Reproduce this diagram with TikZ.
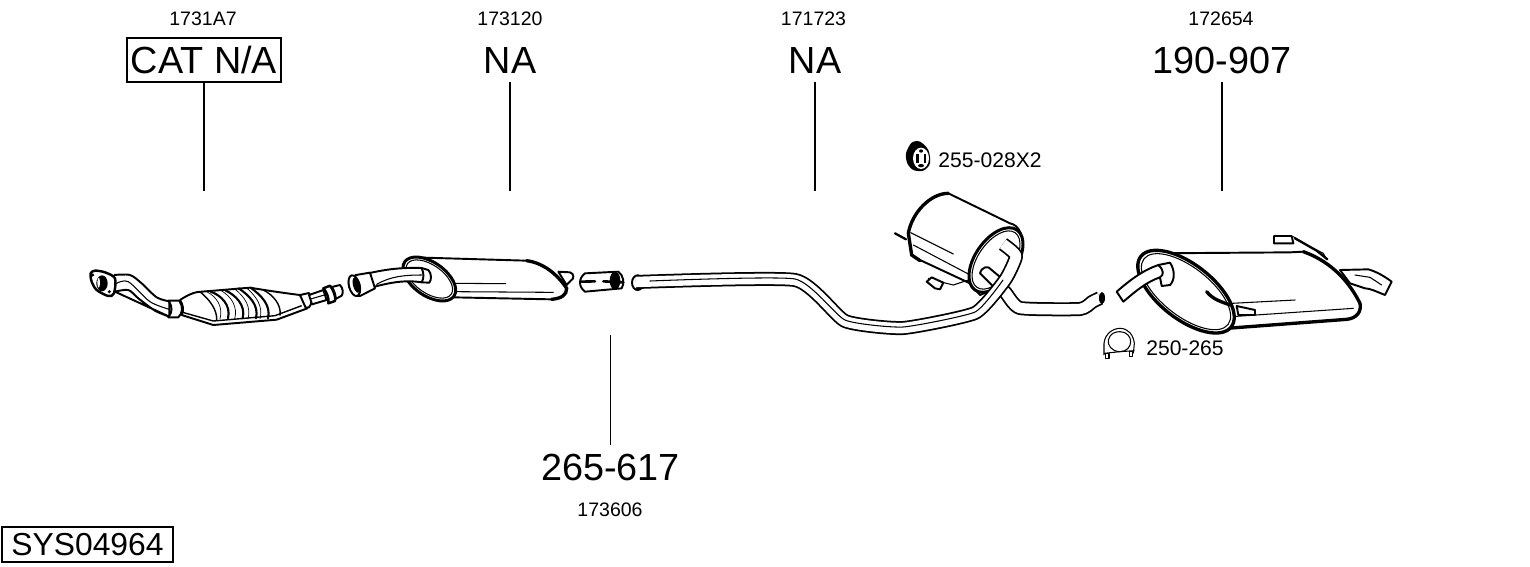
\documentclass[tikz,border=0pt]{standalone}
\usepackage{fontspec}
\setmainfont{Liberation Sans}
\begin{document}
\begin{tikzpicture}[x=0.02cm,y=-0.02cm]
    \tikzstyle{part}=[draw=black,fill=white,line width=1.1pt,line join=round]
    \tikzstyle{heavy}=[draw=black,line width=1.9pt,line cap=round]
    \tikzstyle{fine}=[draw=black,line width=0.6pt,line cap=round]
    \tikzstyle{pipe}=[draw=black,line width=1pt,double=white,double distance=0.21cm,line join=round]
    \tikzstyle{bignum}=[font=\fontsize{21.5pt}{24pt}\selectfont,minimum height=0.88cm,inner sep=0pt]
    \tikzstyle{smallnum}=[font=\fontsize{11.1pt}{14pt}\selectfont,inner sep=0pt]
    \useasboundingbox (0,0) rectangle (1530,566);

    \foreach \num/\x/\code in {1/203/1731A7, 2/510/173120, 3/813.5/171723, 4/1221/172654}
        \node[smallnum] (code-\num) at (\x,18.5) {\code};
    \node[bignum,draw,line width=0.6pt,minimum width=3.08cm] (big-1) at (204,60) {CAT N/A};
    \foreach \num/\x/\big in {2/510/NA, 3/815/NA, 4/1222/190-907}
        \node[bignum] (big-\num) at (\x,60) {\big};
    \foreach \num/\x in {1/204, 2/510, 3/815, 4/1222}
        \coordinate (end-\num) at (\x,191);
    \foreach \num in {1,2,3,4}
        \draw[line width=0.7pt] (big-\num.south) -- (end-\num);

    \node[bignum] (big-5) at (610.5,467) {265-617};
    \coordinate (end-5) at (610.5,335);
    \draw[line width=0.7pt] (big-5.north) -- (end-5);
    \node[smallnum] (code-5) at (610,509.5) {173606};
    \node[draw,line width=0.7pt,inner sep=0pt,minimum width=3.42cm,minimum height=0.7cm,font=\fontsize{18.1pt}{20pt}\selectfont] (sysbox) at (87.5,544.5) {SYS04964};
    \node[font=\fontsize{12pt}{14pt}\selectfont,inner sep=0pt] (mount) at (990,160) {255-028X2};
    \node[font=\fontsize{12pt}{14pt}\selectfont,inner sep=0pt] (clamp) at (1185,348) {250-265};

    \begin{scope}[shift={(70,240)},scale=1/3]
        \filldraw[part,line width=1.4pt] plot[smooth cycle] coordinates {(62,100) (75,92) (105,97) (135,115) (132,160) (115,168) (80,150) (65,125)};
        \fill (96,130) ellipse (17 and 24);
        \fill[white] (86,128) ellipse (4 and 15);
        \fill (68,105) circle (5); \fill (118,155) circle (5);
        \filldraw[part] plot[smooth] coordinates {(132,105) (180,105) (215,130) (260,172) (298,184)} -- (298,230) plot[smooth] coordinates {(298,230) (255,212) (205,175) (175,150) (135,155)} -- cycle;
        \draw[fine] plot[smooth] coordinates {(140,130) (175,125) (240,185) (298,208)};
        \filldraw[part] (295,182) -- (328,182) .. controls (340,200) and (338,220) .. (325,232) -- (295,232) .. controls (308,215) and (308,200) .. (295,182) -- cycle;
    \end{scope}
    \begin{scope}[shift={(160,275)},scale=1/3]
        \filldraw[part] (60,75) .. controls (90,55) and (110,50) .. (125,50) -- (270,38) .. controls (330,48) and (380,55) .. (420,60) -- (442,100) -- (350,134) -- (160,150) -- (65,120) .. controls (72,105) and (70,90) .. (60,75) -- cycle;
        \draw[line width=0.8pt] (68,112) -- (160,138) -- (345,122) -- (425,92);
        \draw[line width=0.8pt] (120,50) .. controls (150,75) and (172,105) .. (170,136);
        \foreach \x/\y in {152/50, 196/46, 236/40, 272/38}
            \draw[heavy,line width=1.2pt] (\x,\y) .. controls (\x+30,60) and (\x+62,90) .. (\x+52,130);
        \foreach \x/\y in {140/50, 184/47, 224/42, 260/39}
            \draw[fine,line width=0.4pt] (\x,\y) .. controls (\x+30,65) and (\x+50,95) .. (\x+40,132);
        \draw[line width=0.8pt] (310,45) .. controls (340,60) and (365,90) .. (360,122);
        \filldraw[part] (420,60) -- (447,54) .. controls (456,70) and (458,85) .. (447,97) -- (437,98) -- cycle;
        \filldraw[part] (447,60) -- (490,45) -- (500,75) -- (456,88) -- cycle;
        \draw[fine] (452,72) -- (493,60);
        \filldraw[part,line width=1.4pt] (490,40) -- (510,32) .. controls (520,45) and (528,65) .. (525,78) -- (505,85) .. controls (508,70) and (500,50) .. (490,40) -- cycle;
        \filldraw[part] (515,36) -- (540,30) .. controls (550,40) and (550,55) .. (545,62) -- (527,72) .. controls (528,60) and (522,45) .. (515,36) -- cycle;
    \end{scope}

    \begin{scope}[shift={(340,240)},scale=1/3]
        \filldraw[part] (655,95) -- (690,97) .. controls (703,100) and (703,118) .. (692,122) -- (680,135) -- cycle;
        \filldraw[part] (220,52) -- (560,62) .. controls (620,70) and (660,115) .. (680,145) .. controls (680,165) and (665,175) .. (635,178) -- (340,172) -- cycle;
        \draw[heavy] (560,62) .. controls (620,70) and (660,115) .. (680,145) .. controls (680,165) and (665,175) .. (635,178);
        \draw[fine] (345,130) -- (497,131) (345,155) -- (640,157);
        \filldraw[part,line width=1.7pt] (268,117) ellipse [x radius=90,y radius=50,rotate=-35];
        \draw[fine] (268,117) ellipse [x radius=80,y radius=42,rotate=-35];
        \filldraw[part] (75,102) .. controls (130,90) and (170,82) .. (245,84) -- (265,90) .. controls (275,100) and (275,120) .. (268,128) -- (245,127) .. controls (190,118) and (140,130) .. (85,145) -- cycle;
        \draw[part,fill=none] (245,84) .. controls (252,100) and (252,115) .. (245,127);
        \draw[fine] (110,133) .. controls (150,110) and (190,105) .. (245,105);
        \filldraw[part] (48,105) -- (90,98) -- (105,145) -- (60,168) .. controls (40,170) and (20,140) .. (28,118) -- cycle;
        \filldraw[part] (43,137) ellipse [x radius=16,y radius=32,rotate=15];
        \fill (50,135) ellipse [x radius=11,y radius=24,rotate=15];
        \filldraw[part] (735,100) -- (835,95) .. controls (850,105) and (855,130) .. (845,145) -- (735,155) .. controls (715,140) and (715,115) .. (735,100) -- cycle;
        \fill (825,122) ellipse (16 and 27);
        \draw[heavy,line width=1.5pt] (722,125) -- (765,124) (790,124) -- (850,127);
        \filldraw[part] (893,128) ellipse (17 and 22);
        \fill (897,128) ellipse (9 and 20);
    \end{scope}

    \draw[pipe] plot[smooth,tension=0.3] coordinates {(985,273) (1005,292) (1020,308) (1080,309) (1092,302) (1100,298)};
    \fill (1102,298) ellipse (3 and 6);

    \begin{scope}[shift={(780,130)},scale=1/3]
        \draw[heavy,line width=1.3pt] (345,310) -- (378,328);
        \filldraw[part] (385,310) .. controls (395,250) and (450,190) .. (505,190) -- (690,280) .. controls (715,285) and (728,310) .. (726,345) -- (660,470) -- (600,495) -- (570,460) -- (420,390) -- (395,375) -- cycle;
        \draw[heavy] (385,310) .. controls (395,250) and (450,190) .. (505,190);
        \draw[heavy] (385,310) -- (395,375) -- (420,392);
        \draw[fine] (392,308) -- (520,372);
        \draw[fine] (400,345) -- (565,432);
        \draw[fine] (445,445) -- (480,455) -- (520,465) -- (565,450);
        \filldraw[part] (440,455) -- (455,442) -- (490,458) -- (480,478) -- (465,475) -- cycle;
        \filldraw[part,line width=1.7pt] (648,390) ellipse [x radius=110,y radius=62,rotate=55];
        \draw[fine] (648,390) ellipse [x radius=100,y radius=53,rotate=55];
        \filldraw[part] (600,430) .. controls (605,410) and (625,405) .. (635,420) -- (665,445) -- (640,470) -- cycle;
    \end{scope}

    \draw[pipe] plot[smooth,tension=0.3] coordinates {(636,282) (795,280) (845,321) (903,328) (975,313) (1005,280) (1016,256) (1003,244)};
    \draw[fine] plot[smooth,tension=0.3] coordinates {(650,281) (795,279) (845,320) (903,327) (975,312) (1003,280)};

    \begin{scope}[shift={(1090,220)},scale=1/3]
        \filldraw[part] (750,150) -- (835,148) .. controls (860,155) and (885,170) .. (905,185) -- (885,225) .. controls (860,215) and (840,205) .. (825,205) -- (780,190) -- cycle;
        \draw[fine] (795,165) -- (840,172) -- (875,195);
        \draw[fine] (610,50) -- (660,80) -- (700,100) -- (708,115);
        \draw[heavy,line width=1.3pt] (615,55) -- (680,92) -- (712,118);
        \filldraw[part] (190,100) -- (600,97) -- (640,95) .. controls (710,120) and (770,170) .. (810,250) .. controls (815,275) and (800,295) .. (770,298) -- (410,325) -- cycle;
        \draw[heavy] (640,95) .. controls (710,120) and (770,170) .. (810,250) .. controls (815,275) and (800,295) .. (770,298) -- (410,325);
        \draw[fine] (425,250) -- (615,240) (425,290) -- (790,265);
        \filldraw[part] (552,48) -- (605,48) -- (610,70) -- (552,70) -- cycle;
        \filldraw[part] (440,258) -- (495,270) -- (495,285) -- (445,285) -- cycle;
        \filldraw[part,line width=1.9pt] (288,215) ellipse [x radius=172,y radius=82,rotate=-38];
        \draw[fine] (288,215) ellipse [x radius=160,y radius=73,rotate=-38];
        \draw[heavy] (350,215) .. controls (370,240) and (395,245) .. (420,255);
        \filldraw[part] (80,215) .. controls (120,180) and (160,150) .. (205,135) -- (240,128) .. controls (255,150) and (255,180) .. (240,195) -- (215,198) -- (210,172) .. controls (170,185) and (135,215) .. (100,245) -- cycle;
        \draw[part,fill=none] (205,135) .. controls (222,150) and (222,165) .. (210,172);
        \draw[part,fill=none,line width=0.6pt] (42,405) -- (42,370) .. controls (45,340) and (70,325) .. (90,325) .. controls (115,325) and (130,345) .. (133,370) -- (130,400);
        \draw[fine] (90,395) .. controls (65,395) and (52,375) .. (55,360) .. controls (60,340) and (75,335) .. (90,335) .. controls (110,335) and (122,350) .. (122,365) .. controls (122,380) and (110,395) .. (90,395);
        \draw[part,fill=none,line width=0.6pt] (42,400) -- (90,395) -- (133,392);
        \filldraw[part,line width=0.6pt] (47,400) rectangle (57,415);
        \filldraw[part,line width=0.6pt] (118,395) rectangle (128,410);
    \end{scope}

    \begin{scope}[shift={(780,130)},scale=1/3]
        \fill plot[smooth cycle] coordinates {(378,70) (395,38) (420,35) (445,60) (450,100) (430,122) (400,120) (382,100)};
        \fill[white] (423,85) ellipse (24 and 32);
        \fill (408,72) rectangle (416,100);
        \fill (431,72) rectangle (438,100);
        \fill (423,63) ellipse (6 and 5);
        \fill (423,107) ellipse (9 and 5);
    \end{scope}
\end{tikzpicture}
\end{document}
